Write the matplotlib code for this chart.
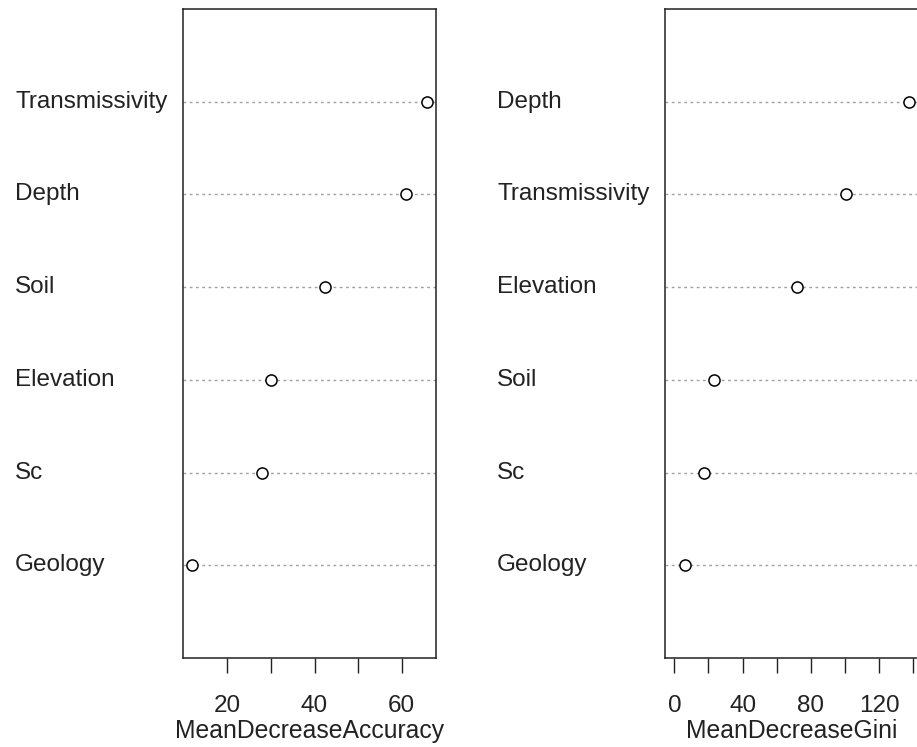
import matplotlib.pyplot as plt
from matplotlib.transforms import blended_transform_factory

plt.rcParams['font.family'] = ['Liberation Sans', 'DejaVu Sans']

# variable importance, listed bottom to top as in the dotchart
acc_vars = ["Geology", "Sc", "Elevation", "Soil", "Depth", "Transmissivity"]
acc_vals = [12.0, 28.0, 30.0, 42.3, 60.9, 65.7]

gini_vars = ["Geology", "Sc", "Soil", "Elevation", "Transmissivity", "Depth"]
gini_vals = [6.5, 17.6, 23.5, 71.7, 100.4, 137.4]

W, H = 917, 747
fig = plt.figure(figsize=(W / 100, H / 100), dpi=100)


def dotpanel(rect, label_x, names, vals, xmin, ticks, xlab):
    ax = fig.add_axes(rect)
    ys = range(1, len(vals) + 1)
    for y in ys:
        ax.axhline(y, color="#a0a0a0", lw=1, ls=(0, (2, 2.5)), zorder=1)
    ax.plot(vals, list(ys), "o", ms=8, mfc="white", mec="black", mew=1.1, zorder=3)
    lo, hi = xmin, max(vals)
    pad = (hi - lo) * 0.04
    ax.set_xlim(lo - pad, hi + pad)
    ax.set_ylim(0, len(vals) + 1)
    ax.set_yticks([])
    ax.set_xticks(ticks)
    ax.set_xticklabels([str(t) if i % 2 == 0 else "" for i, t in enumerate(ticks)])
    ax.tick_params(axis="x", length=10.5, width=1, pad=16, labelsize=17.5, colors="#222222")
    ax.set_xlabel(xlab, fontsize=17.8, labelpad=1.5, color="#222222")
    for s in ax.spines.values():
        s.set_linewidth(1.1)
        s.set_color("#222222")
    tr = blended_transform_factory(fig.transFigure, ax.transData)
    for y, n in zip(ys, names):
        ax.text(label_x / W, y, n, transform=tr, ha="left", va="center",
                fontsize=17.5, color="#222222", clip_on=False)
    return ax


dotpanel([183 / W, 1 - 658 / H, (436 - 183) / W, (658 - 9) / H], 15,
         acc_vars, acc_vals, min(acc_vals), [20, 30, 40, 50, 60], "MeanDecreaseAccuracy")
dotpanel([665 / W, 1 - 658 / H, (918 - 665) / W, (658 - 9) / H], 497,
         gini_vars, gini_vals, 0, [0, 20, 40, 60, 80, 100, 120, 140], "MeanDecreaseGini")

fig.savefig("out.png", dpi=100)
